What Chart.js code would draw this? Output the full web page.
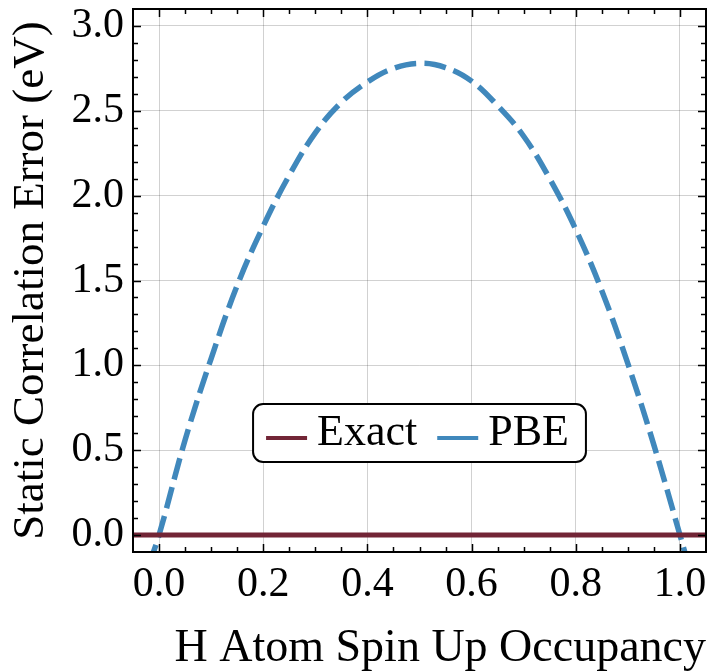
<!DOCTYPE html>
<html>
<head>
<meta charset="utf-8">
<script src="https://cdn.jsdelivr.net/npm/chart.js@4.4.0/dist/chart.umd.min.js"></script>
<style>
  html, body { margin: 0; padding: 0; background: #fff; }
  #wrap { width: 714px; height: 672px; }
</style>
</head>
<body>
<div id="wrap"><canvas id="myChart" width="714" height="672"></canvas></div>
<script>
// === data ===
const occupancy = [-0.02, 0.0, 0.05, 0.10, 0.15, 0.20, 0.25, 0.30, 0.35, 0.40, 0.45, 0.50,
                   0.55, 0.60, 0.65, 0.70, 0.75, 0.80, 0.85, 0.90, 0.95, 1.00, 1.02];
const pbeError = [-0.18, 0.0, 0.56, 1.04, 1.47, 1.82, 2.12, 2.37, 2.55, 2.67, 2.75, 2.78,
                  2.755, 2.675, 2.53, 2.35, 2.10, 1.80, 1.44, 1.01, 0.53, 0.0, -0.22];
const exactOccupancy = [-0.05, 1.05];
const exactError = [0, 0];

const seriesLabels = ['Exact', 'PBE'];
const seriesColors = ['#722536', '#4088BC'];

const xTicks = [0.0, 0.2, 0.4, 0.6, 0.8, 1.0];
const yTicks = [0.0, 0.5, 1.0, 1.5, 2.0, 2.5, 3.0];
const xLimits = [-0.05, 1.05];
const yLimits = [-0.1, 3.1];

const FONT = '"Liberation Serif", "DejaVu Serif", serif';

const toPoints = (xs, ys) => xs.map((x, i) => ({ x: x, y: ys[i] }));

// 内向きの目盛りと枠線
const frameTicks = {
    id: 'frameTicks',
    afterDraw(chart) {
        const { ctx, chartArea: a, scales: { x, y } } = chart;
        ctx.save();
        ctx.strokeStyle = '#000';
        ctx.lineWidth = 1.5;
        ctx.beginPath();
        for (let i = 0; i <= 20; i++) {
            const v = i * 0.05;
            const len = (i % 4 === 0) ? 8 : 5;
            const px = Math.round(x.getPixelForValue(v)) + 0.5;
            ctx.moveTo(px, a.bottom); ctx.lineTo(px, a.bottom - len);
            ctx.moveTo(px, a.top); ctx.lineTo(px, a.top + len);
        }
        for (let i = 0; i <= 30; i++) {
            const v = i * 0.1;
            const len = (i % 5 === 0) ? 8 : 5;
            const py = Math.round(y.getPixelForValue(v)) + 0.5;
            ctx.moveTo(a.left, py); ctx.lineTo(a.left + len, py);
            ctx.moveTo(a.right, py); ctx.lineTo(a.right - len, py);
        }
        ctx.stroke();
        ctx.lineWidth = 2;
        ctx.strokeRect(a.left, a.top, a.right - a.left, a.bottom - a.top);
        ctx.restore();
    }
};

// 角丸の枠付き凡例（プロット内）
const boxLegend = {
    id: 'boxLegend',
    afterDraw(chart) {
        const { ctx, chartArea: a } = chart;
        ctx.save();
        ctx.font = '44px ' + FONT;
        const items = chart.data.datasets.map(ds => ({
            label: ds.label,
            color: ds.borderColor,
            w: ctx.measureText(ds.label).width
        }));
        const padL = 13, padR = 17, handle = 41, gapH = 10, gapItem = 20, boxH = 58;
        const boxW = padL + padR + items.reduce((s, it) => s + handle + gapH + it.w, 0) + gapItem * (items.length - 1);
        const bx = (a.left + a.right) / 2 - boxW / 2;
        const by = a.bottom - 90 - boxH;

        ctx.beginPath();
        ctx.roundRect(bx, by, boxW, boxH, 10);
        ctx.fillStyle = '#fff';
        ctx.fill();
        ctx.lineWidth = 2;
        ctx.strokeStyle = '#000';
        ctx.stroke();

        let px = bx + padL;
        const lineY = by + boxH / 2 + 5;
        items.forEach(it => {
            ctx.beginPath();
            ctx.strokeStyle = it.color;
            ctx.lineWidth = 4;
            ctx.moveTo(px, lineY);
            ctx.lineTo(px + handle, lineY);
            ctx.stroke();
            px += handle + gapH;
            ctx.fillStyle = '#000';
            ctx.textBaseline = 'alphabetic';
            ctx.fillText(it.label, px, by + boxH / 2 + 12);
            px += it.w + gapItem;
        });
        ctx.restore();
    }
};

// 目盛りラベル用の余白を付けない
const noEdgePadding = scale => {
    scale.paddingTop = 0;
    scale.paddingBottom = 0;
    scale.paddingLeft = 0;
    scale.paddingRight = 0;
};

const ctx = document.getElementById('myChart').getContext('2d');
const myChart = new Chart(ctx, {
    type: 'line',
    data: {
        datasets: [{
            label: seriesLabels[0],
            data: toPoints(exactOccupancy, exactError),
            borderColor: seriesColors[0],
            borderWidth: 5,
            pointRadius: 0,
            order: 0
        }, {
            label: seriesLabels[1],
            data: toPoints(occupancy, pbeError),
            borderColor: seriesColors[1],
            borderWidth: 5.5,
            borderDash: [22, 8],
            borderCapStyle: 'butt',
            tension: 0.4,
            pointRadius: 0,
            order: 1
        }]
    },
    options: {
        responsive: false,
        animation: false,
        layout: { padding: { top: 9, right: 8, left: 0, bottom: 0 } },
        plugins: {
            legend: { display: false },
            tooltip: { enabled: false }
        },
        scales: {
            x: {
                type: 'linear',
                min: xLimits[0],
                max: xLimits[1],
                afterBuildTicks: scale => { scale.ticks = xTicks.map(v => ({ value: v })); },
                afterFit: scale => { scale.height = 120; noEdgePadding(scale); },
                ticks: {
                    color: '#000',
                    padding: 8,
                    maxRotation: 0,
                    font: { family: FONT, size: 42 },
                    callback: v => Number(v).toFixed(1)
                },
                grid: { color: 'rgba(0,0,0,0.18)', lineWidth: 1, drawTicks: false },
                border: { display: false },
                title: {
                    display: true,
                    text: 'H Atom Spin Up Occupancy',
                    align: 'end',
                    color: '#000',
                    font: { family: FONT, size: 46, lineHeight: 1 },
                    padding: { top: 0, bottom: 0 }
                }
            },
            y: {
                type: 'linear',
                min: yLimits[0],
                max: yLimits[1],
                afterBuildTicks: scale => { scale.ticks = yTicks.map(v => ({ value: v })); },
                afterFit: scale => { scale.width = 133; noEdgePadding(scale); },
                ticks: {
                    color: '#000',
                    padding: 9,
                    font: { family: FONT, size: 42 },
                    callback: v => Number(v).toFixed(1)
                },
                grid: { color: 'rgba(0,0,0,0.18)', lineWidth: 1, drawTicks: false },
                border: { display: false },
                title: {
                    display: true,
                    text: 'Static Correlation Error (eV)',
                    color: '#000',
                    font: { family: FONT, size: 45, lineHeight: 1 },
                    padding: { top: 9, bottom: 0 }
                }
            }
        }
    },
    plugins: [frameTicks, boxLegend]
});
</script>
</body>
</html>
